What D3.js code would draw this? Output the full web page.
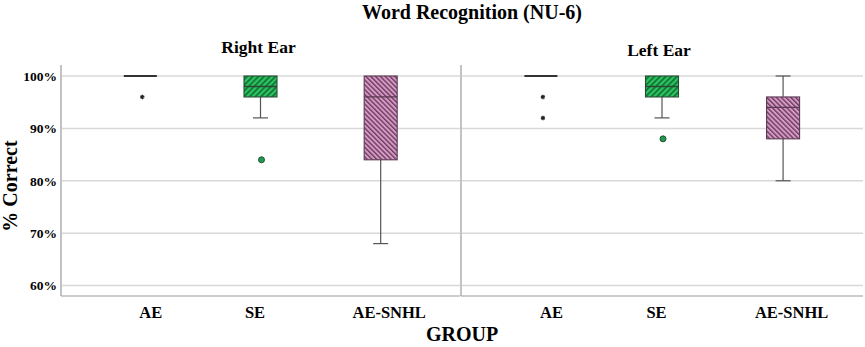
<!DOCTYPE html>
<html><head><meta charset="utf-8">
<script src="https://cdn.jsdelivr.net/npm/d3@7"></script>
<style>body{margin:0;background:#fff}svg{display:block}text{font-family:"Liberation Serif","Times New Roman",serif;font-weight:bold;fill:#000}</style>
</head><body><svg id="c" width="865" height="347"></svg>
<script>
const groups = ["AE","SE","AE-SNHL"];
const panels = ["Right Ear","Left Ear"];
const yTicks = [60,70,80,90,100];
// per panel, per group: [whiskerLow, q1, median, q3, whiskerHigh]
const rightEarBoxes = [[100,100,100,100,100],[92,96,98,100,100],[68,84,96,100,100]];
const leftEarBoxes  = [[100,100,100,100,100],[92,96,98,100,100],[80,88,94,96,100]];
// outliers: [groupIndex, value, type]
const rightEarOutliers = [[0,96,"star"],[1,84,"circle"]];
const leftEarOutliers  = [[0,96,"star"],[0,92,"star"],[1,88,"circle"]];

(function(){
const svg = d3.select("#c");
const plotTop=65, plotBottom=296;
const y = d3.scaleLinear().domain([60,100]).range([285.5,76]);
const panelRanges = [[61,460],[461,863]];
const fills = ["#ffffff","#2cc45e","#d49cc3"];
const hatch = [null,"#0f6b34","#6e3a62"];
const boxStroke = ["#333","#2b4a35","#5a3a52"];

const defs = svg.append("defs");
const pg = defs.append("pattern").attr("id","hg").attr("patternUnits","userSpaceOnUse").attr("width",4).attr("height",4).attr("patternTransform","rotate(45)");
pg.append("rect").attr("width",4).attr("height",4).attr("fill",fills[1]);
pg.append("rect").attr("width",1.6).attr("height",4).attr("fill",hatch[1]);
const pp = defs.append("pattern").attr("id","hp").attr("patternUnits","userSpaceOnUse").attr("width",3.4).attr("height",3.4).attr("patternTransform","rotate(-45)");
pp.append("rect").attr("width",3.4).attr("height",3.4).attr("fill",fills[2]);
pp.append("rect").attr("width",1.4).attr("height",3.4).attr("fill",hatch[2]);
const patt = [null,"url(#hg)","url(#hp)"];

svg.append("text").attr("x",472).attr("y",19).attr("text-anchor","middle").attr("font-size",20).text("Word Recognition (NU-6)");
svg.append("text").attr("transform","translate(17,186) rotate(-90)").attr("text-anchor","middle").attr("font-size",20).text("% Correct");
svg.append("text").attr("x",462).attr("y",341).attr("text-anchor","middle").attr("font-size",20).text("GROUP");

const yAxis = d3.axisLeft(y).tickValues(yTicks).tickSize(0).tickPadding(5).tickFormat(d=>d+"%");
const ya = svg.append("g").attr("transform","translate(61,0)").call(yAxis);
ya.select(".domain").remove();
ya.selectAll("text").attr("font-size",13.5).attr("dx",1).style("font-family","Liberation Serif").style("font-weight","bold");

const boxesByPanel=[rightEarBoxes,leftEarBoxes];
const outByPanel=[rightEarOutliers,leftEarOutliers];
const titleY=[53,56];

panels.forEach((p,pi)=>{
  const [x0,x1]=panelRanges[pi];
  const x = d3.scalePoint().domain(groups).range([x0,x1]).padding(0.66);
  const g = svg.append("g");
  g.selectAll("line.grid").data(yTicks).join("line").attr("x1",x0+1).attr("x2",x1).attr("y1",d=>y(d)).attr("y2",d=>y(d)).attr("stroke","#d8d8d8").attr("stroke-width",1.5);
  g.append("line").attr("x1",x0).attr("x2",x0).attr("y1",plotTop).attr("y2",plotBottom).attr("stroke","#9a9a9a").attr("stroke-width",1.2);
  g.append("line").attr("x1",x0).attr("x2",x1).attr("y1",plotBottom).attr("y2",plotBottom).attr("stroke","#9a9a9a").attr("stroke-width",1.2);
  svg.append("text").attr("x",(x0+x1)/2+ (pi==0?-2:-3)).attr("y",titleY[pi]).attr("text-anchor","middle").attr("font-size",17.5).text(p);
  const xa = svg.append("g").attr("transform",`translate(0,${plotBottom})`).call(d3.axisBottom(x).tickSize(0).tickPadding(10));
  xa.select(".domain").remove();
  xa.selectAll("text").attr("font-size",16.5).style("font-family","Liberation Serif").style("font-weight","bold").attr("dx",(d,i)=>[10,-6,8][i]);
  const bw=33, cw=15;
  boxesByPanel[pi].forEach((b,gi)=>{
    const cx=x(groups[gi]);
    const [lo,q1,med,q3,hi]=b;
    if (lo<q1){
      g.append("line").attr("x1",cx).attr("x2",cx).attr("y1",y(q1)).attr("y2",y(lo)).attr("stroke","#555").attr("stroke-width",1.2);
      g.append("line").attr("x1",cx-cw/2).attr("x2",cx+cw/2).attr("y1",y(lo)).attr("y2",y(lo)).attr("stroke","#555").attr("stroke-width",1.2);
    }
    if (hi>q3){
      g.append("line").attr("x1",cx).attr("x2",cx).attr("y1",y(q3)).attr("y2",y(hi)).attr("stroke","#555").attr("stroke-width",1.2);
      g.append("line").attr("x1",cx-cw/2).attr("x2",cx+cw/2).attr("y1",y(hi)).attr("y2",y(hi)).attr("stroke","#555").attr("stroke-width",1.2);
    }
    if (q3>q1){
      g.append("rect").attr("x",cx-bw/2).attr("y",y(q3)).attr("width",bw).attr("height",y(q1)-y(q3)).attr("fill",patt[gi]).attr("stroke",boxStroke[gi]).attr("stroke-width",1.1);
    }
    g.append("line").attr("x1",cx-bw/2).attr("x2",cx+bw/2).attr("y1",y(med)).attr("y2",y(med)).attr("stroke",q3>q1?boxStroke[gi]:"#333").attr("stroke-width",q3>q1?1.3:2);
  });
  outByPanel[pi].forEach(([gi,v,t])=>{
    const cx=x(groups[gi]);
    if (t==="star"){
      g.append("path").attr("d",d3.symbol(d3.symbolAsterisk,14)()).attr("transform",`translate(${cx+2},${y(v)})`).attr("stroke","#222").attr("stroke-width",1.4);
    } else {
      g.append("circle").attr("cx",cx+1).attr("cy",y(v)).attr("r",3).attr("fill","#1f9a50").attr("stroke","#225533").attr("stroke-width",1);
    }
  });
});
})();
</script></body></html>
